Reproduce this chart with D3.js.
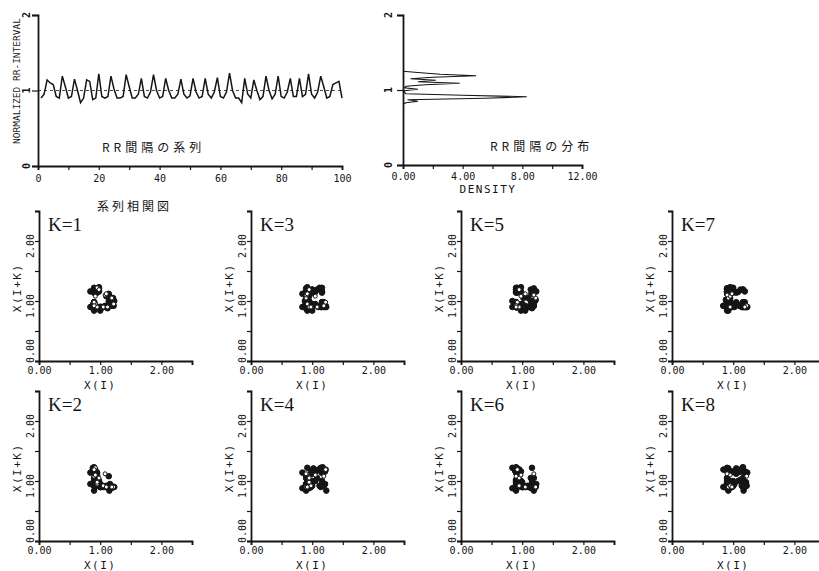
<!DOCTYPE html>
<html><head><meta charset="utf-8">
<script src="https://cdn.jsdelivr.net/npm/d3@7"></script>
<style>
body{margin:0;background:#fff}
text{font-family:"DejaVu Sans Mono","Liberation Mono",monospace;fill:#151515}
.jp{font-family:"Noto Sans CJK JP","Noto Sans CJK SC",sans-serif}
.kl{font-family:"Liberation Serif","DejaVu Serif",serif}
</style>
</head><body>
<svg id="c" width="819" height="571"></svg>
<script>
// Normalized RR-interval series, beats 1..100
const beatIndex = d3.range(1, 101);
const rrSeries = [
  0.90,0.95,1.14,1.10,1.08,0.92,0.90,1.19,1.05,0.90,
  0.92,1.15,1.00,0.84,0.90,1.14,1.12,0.88,0.90,1.22,
  0.92,0.90,0.92,1.19,1.02,0.90,0.90,0.92,1.21,1.05,
  0.90,0.90,0.95,1.16,0.92,0.90,0.98,1.21,1.00,0.90,
  0.92,1.16,1.00,0.90,0.90,0.95,1.15,0.95,0.90,0.93,
  1.16,0.98,0.90,0.92,1.16,0.95,0.90,0.98,1.17,0.92,
  0.90,0.98,1.23,1.00,0.90,0.90,0.84,1.16,0.95,0.90,
  1.14,1.00,0.88,0.92,1.19,1.00,0.89,0.95,1.19,0.92,
  0.90,0.98,1.16,0.92,0.92,1.16,0.92,0.95,1.22,0.95,
  0.90,0.98,1.19,1.05,0.90,0.92,1.08,1.10,1.12,0.90
];
const seriesTicks = d3.range(0, 101, 10);
const seriesLabels = [0, 20, 40, 60, 80, 100];
const rrAxisTicks = [0, 1, 2];

// Distribution of RR intervals (level -> density)
const rrLevels  = [1.25,1.23,1.21,1.19,1.17,1.15,1.13,1.11,1.09,1.07,1.05,1.03,1.01,0.99,0.97,0.95,0.93,0.91,0.89,0.87,0.85,0.83,0.81];
const rrDensity = [0.00,1.20,2.50,4.90,2.00,0.50,2.20,1.00,3.80,1.50,0.20,0.10,1.00,0.10,0.10,0.20,4.00,8.30,5.50,0.30,1.00,0.20,0.00];
const densityTicks = d3.range(0, 13, 2);
const densityLabels = [0, 4, 8, 12];

// Serial correlation plots: lags in panel order (row by row)
const lags = [1, 3, 5, 7, 2, 4, 6, 8];
const lagTicks = [0, 0.5, 1, 1.5, 2, 2.5];
const lagLabels = [0, 1, 2];

const svg = d3.select("#c");
const ink = "#151515";

function styleAxis(g, w) {
  g.select(".domain").attr("stroke", ink).attr("stroke-width", w);
  g.selectAll(".tick line").attr("stroke", ink).attr("stroke-width", 1.2);
}

// ---------- RR-interval series ----------
{
  const x = d3.scaleLinear([0, 100], [38, 342]);
  const y = d3.scaleLinear([0, 2], [166, 15]);
  const gx = svg.append("g").attr("transform", `translate(0,${y(0)})`)
    .call(d3.axisBottom(x).tickValues(seriesTicks).tickSize(4).tickPadding(5)
      .tickFormat(d => seriesLabels.includes(d) ? d : ""));
  gx.selectAll("text").attr("font-size", 10).attr("fill", ink);
  styleAxis(gx, 1.8);
  const gy = svg.append("g").attr("transform", `translate(${x(0)},0)`)
    .call(d3.axisLeft(y).tickValues(rrAxisTicks).tickSize(6).tickFormat(""));
  styleAxis(gy, 1.8);
  svg.append("g").selectAll("text").data(rrAxisTicks).join("text")
    .attr("transform", d => `translate(30,${y(d)}) rotate(-90)`)
    .attr("text-anchor", "middle").attr("font-size", 10).attr("font-weight", "bold").text(d => d);
  svg.append("text").attr("transform", `translate(20,${(y(2) + 147) / 2}) rotate(-90)`)
    .attr("text-anchor", "middle").attr("font-size", 9.5).text("NORMALIZED RR-INTERVAL");
  svg.append("line").attr("x1", x(0)).attr("x2", x(100)).attr("y1", y(1)).attr("y2", y(1))
    .attr("stroke", ink).attr("stroke-width", 0.8).attr("stroke-dasharray", "3,3");
  svg.append("path").datum(rrSeries)
    .attr("d", d3.line().x((d, i) => x(beatIndex[i])).y(d => y(d)))
    .attr("fill", "none").attr("stroke", ink).attr("stroke-width", 1.5);
  svg.append("text").attr("class", "jp").attr("x", 102).attr("y", 152)
    .attr("font-size", 12).attr("letter-spacing", 4).text("RR間隔の系列");
}

// ---------- RR-interval distribution ----------
{
  const x = d3.scaleLinear([0, 12], [403, 582]);
  const y = d3.scaleLinear([0, 2], [165, 15]);
  const gx = svg.append("g").attr("transform", `translate(0,${y(0)})`)
    .call(d3.axisBottom(x).tickValues(densityTicks).tickSize(4).tickPadding(4)
      .tickFormat(d => densityLabels.includes(d) ? d3.format(".2f")(d) : ""));
  gx.selectAll("text").attr("font-size", 10).attr("fill", ink);
  styleAxis(gx, 1.8);
  const gy = svg.append("g").attr("transform", `translate(${x(0)},0)`)
    .call(d3.axisLeft(y).tickValues(rrAxisTicks).tickSize(6).tickFormat(""));
  styleAxis(gy, 1.8);
  svg.append("g").selectAll("text").data(rrAxisTicks).join("text")
    .attr("transform", d => `translate(392,${y(d)}) rotate(-90)`)
    .attr("text-anchor", "middle").attr("font-size", 10).attr("font-weight", "bold").text(d => d);
  svg.append("path").datum(rrLevels.map((v, i) => [rrDensity[i], v]))
    .attr("d", d3.line().x(d => x(d[0])).y(d => y(d[1])))
    .attr("fill", "none").attr("stroke", ink).attr("stroke-width", 1.1);
  svg.append("text").attr("x", 488).attr("y", 193).attr("text-anchor", "middle")
    .attr("font-size", 11).attr("letter-spacing", 1.5).text("DENSITY");
  svg.append("text").attr("class", "jp").attr("x", 490).attr("y", 151)
    .attr("font-size", 12).attr("letter-spacing", 4).text("RR間隔の分布");
}

// ---------- serial correlation plots ----------
svg.append("text").attr("class", "jp").attr("x", 97).attr("y", 211)
  .attr("font-size", 12).attr("letter-spacing", 3).text("系列相関図");

const colX = [39, 251, 461, 672];
const rowY = [361, 541];
lags.forEach((k, j) => {
  const ax = colX[j % 4], by = rowY[Math.floor(j / 4)];
  const x = d3.scaleLinear([0, 2.5], [ax, ax + 153]);
  const y = d3.scaleLinear([0, 2.5], [by, by - 150]);
  const g = svg.append("g");
  const gx = g.append("g").attr("transform", `translate(0,${by})`)
    .call(d3.axisBottom(x).tickValues(lagTicks).tickSize(4).tickPadding(2)
      .tickFormat(d => lagLabels.includes(d) ? d3.format(".2f")(d) : ""));
  gx.selectAll("text").attr("font-size", 10).attr("fill", ink);
  styleAxis(gx, 1.8);
  const gy = g.append("g").attr("transform", `translate(${ax},0)`)
    .call(d3.axisLeft(y).tickValues(lagTicks).tickSize(4).tickFormat(""));
  styleAxis(gy, 1.8);
  g.append("g").selectAll("text").data(lagLabels).join("text")
    .attr("transform", d => `translate(${ax - 9},${d === 0 ? y(d) - 10 : y(d) + 5}) rotate(-90)`)
    .attr("text-anchor", "middle").attr("dominant-baseline", "central")
    .attr("font-size", 10).text(d => d3.format(".2f")(d));
  g.append("text").attr("transform", `translate(${ax - 22},${y(1.22)}) rotate(-90)`)
    .attr("text-anchor", "middle").attr("dominant-baseline", "central")
    .attr("font-size", 11).attr("letter-spacing", 1.5).text("X(I+K)");
  g.append("text").attr("x", x(1)).attr("y", by + 28).attr("text-anchor", "middle")
    .attr("font-size", 11).attr("letter-spacing", 1.5).text("X(I)");
  g.append("text").attr("class", "kl").attr("x", ax + 9).attr("y", by - 130)
    .attr("font-size", 19).text(`K=${k}`);

  const pairs = rrSeries.slice(0, rrSeries.length - k).map((v, i) => ({ i, a: v, b: rrSeries[i + k] }));
  g.append("g").selectAll("circle").data(pairs).join("circle")
    .attr("cx", d => x(d.a)).attr("cy", d => y(d.b))
    .attr("r", d => d.i >= 86 ? 2 : 2.8)
    .attr("fill", d => d.i >= 86 ? "#fff" : ink)
    .attr("stroke", ink).attr("stroke-width", 1);
});
</script>
</body></html>
